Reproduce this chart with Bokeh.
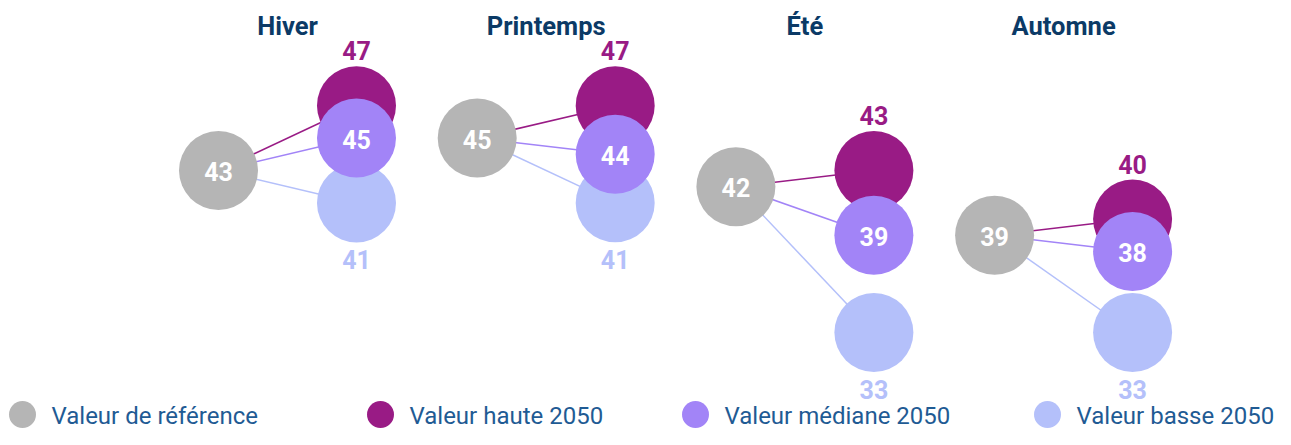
from bokeh.plotting import figure
from bokeh.models import Range1d, ColumnDataSource
from bokeh.core.properties import value
from bokeh.embed import file_html
from bokeh.resources import INLINE

# ---- data ----
seasons = ["Hiver", "Printemps", "Été", "Automne"]
ref_vals = [43, 45, 42, 39]
haute_vals = [47, 47, 43, 40]
mediane_vals = [45, 44, 39, 38]
basse_vals = [41, 41, 33, 33]
legend_labels = ["Valeur de référence", "Valeur haute 2050", "Valeur médiane 2050", "Valeur basse 2050"]

# ---- styling ----
C_REF = "#b5b5b5"
C_HAUTE = "#991b85"
C_MED = "#a284f7"
C_BASSE = "#b4c0fa"
C_TITLE = "#0b3a66"
C_LEG = "#1f5b94"
FONT = "Roboto"
DIAM = 79
RIGHT_OFF = 0.5334  # panel units between reference and 2050 column

W, H = 1275, 429
PX_PER_PANEL = 258.7
PX_PER_UNIT = 16.2
X0 = -218 / PX_PER_PANEL
X1 = (W - 218) / PX_PER_PANEL
Y1 = 43 + 170 / PX_PER_UNIT
Y0 = 43 - (H - 170) / PX_PER_UNIT

p = figure(width=W, height=H, output_backend="svg", toolbar_location=None,
           x_range=Range1d(X0, X1), y_range=Range1d(Y0, Y1),
           min_border=0, outline_line_color=None)
p.axis.visible = False
p.grid.visible = False
p.background_fill_color = "white"
p.border_fill_color = "white"

xs_ref = [float(i) for i in range(len(seasons))]
xs_r = [x + RIGHT_OFF for x in xs_ref]

src = ColumnDataSource(dict(
    season=seasons, xr=xs_ref, x2=xs_r,
    ref=ref_vals, haute=haute_vals, med=mediane_vals, basse=basse_vals,
    ref_t=[str(v) for v in ref_vals], haute_t=[str(v) for v in haute_vals],
    med_t=[str(v) for v in mediane_vals], basse_t=[str(v) for v in basse_vals],
    xt=[x + RIGHT_OFF / 2 for x in xs_ref], yt=[Y1] * len(seasons),
))

# connecting lines
p.segment(x0="xr", y0="ref", x1="x2", y1="haute", source=src, line_color=C_HAUTE, line_width=1.5)
p.segment(x0="xr", y0="ref", x1="x2", y1="med", source=src, line_color=C_MED, line_width=1.5)
p.segment(x0="xr", y0="ref", x1="x2", y1="basse", source=src, line_color=C_BASSE, line_width=1.5)

# circles
p.scatter(x="xr", y="ref", source=src, size=DIAM, fill_color=C_REF, line_color=None)
p.scatter(x="x2", y="basse", source=src, size=DIAM, fill_color=C_BASSE, line_color=None)
p.scatter(x="x2", y="haute", source=src, size=DIAM, fill_color=C_HAUTE, line_color=None)
p.scatter(x="x2", y="med", source=src, size=DIAM, fill_color=C_MED, line_color=None)

common = dict(source=src, text_font=value(FONT), text_font_style="bold",
              text_font_size="25px", text_align="center", text_baseline="middle")
p.text(x="xr", y="ref", text="ref_t", text_color="white", y_offset=1, **common)
p.text(x="x2", y="med", text="med_t", text_color="white", y_offset=1, **common)
p.text(x="x2", y="haute", text="haute_t", text_color=C_HAUTE, y_offset=-55, **common)
p.text(x="x2", y="basse", text="basse_t", text_color=C_BASSE, y_offset=57, **common)

# titles
p.text(x="xt", y="yt", text="season", source=src, text_color=C_TITLE,
       text_font=value(FONT), text_font_style="bold", text_font_size="25.5px",
       text_align="center", text_baseline="middle", y_offset=25)

# legend (manual, bottom row)
leg_px = [22, 380, 695, 1047]
to_u = lambda px: (px - 218) / PX_PER_PANEL
leg_y = Y0 + 15 / PX_PER_UNIT  # circle centre 15px above the bottom edge
leg_src = ColumnDataSource(dict(
    x=[to_u(v) for v in leg_px], tx=[to_u(v + 29) for v in leg_px],
    y=[leg_y] * 4, label=legend_labels, color=[C_REF, C_HAUTE, C_MED, C_BASSE]))
p.scatter(x="x", y="y", source=leg_src, size=27, fill_color="color", line_color=None)
p.text(x="tx", y="y", text="label", source=leg_src, text_color=C_LEG,
       text_font=value(FONT), text_font_size="24px", text_align="left",
       text_baseline="middle", y_offset=1)

open("out.html", "w").write(file_html(p, INLINE))
